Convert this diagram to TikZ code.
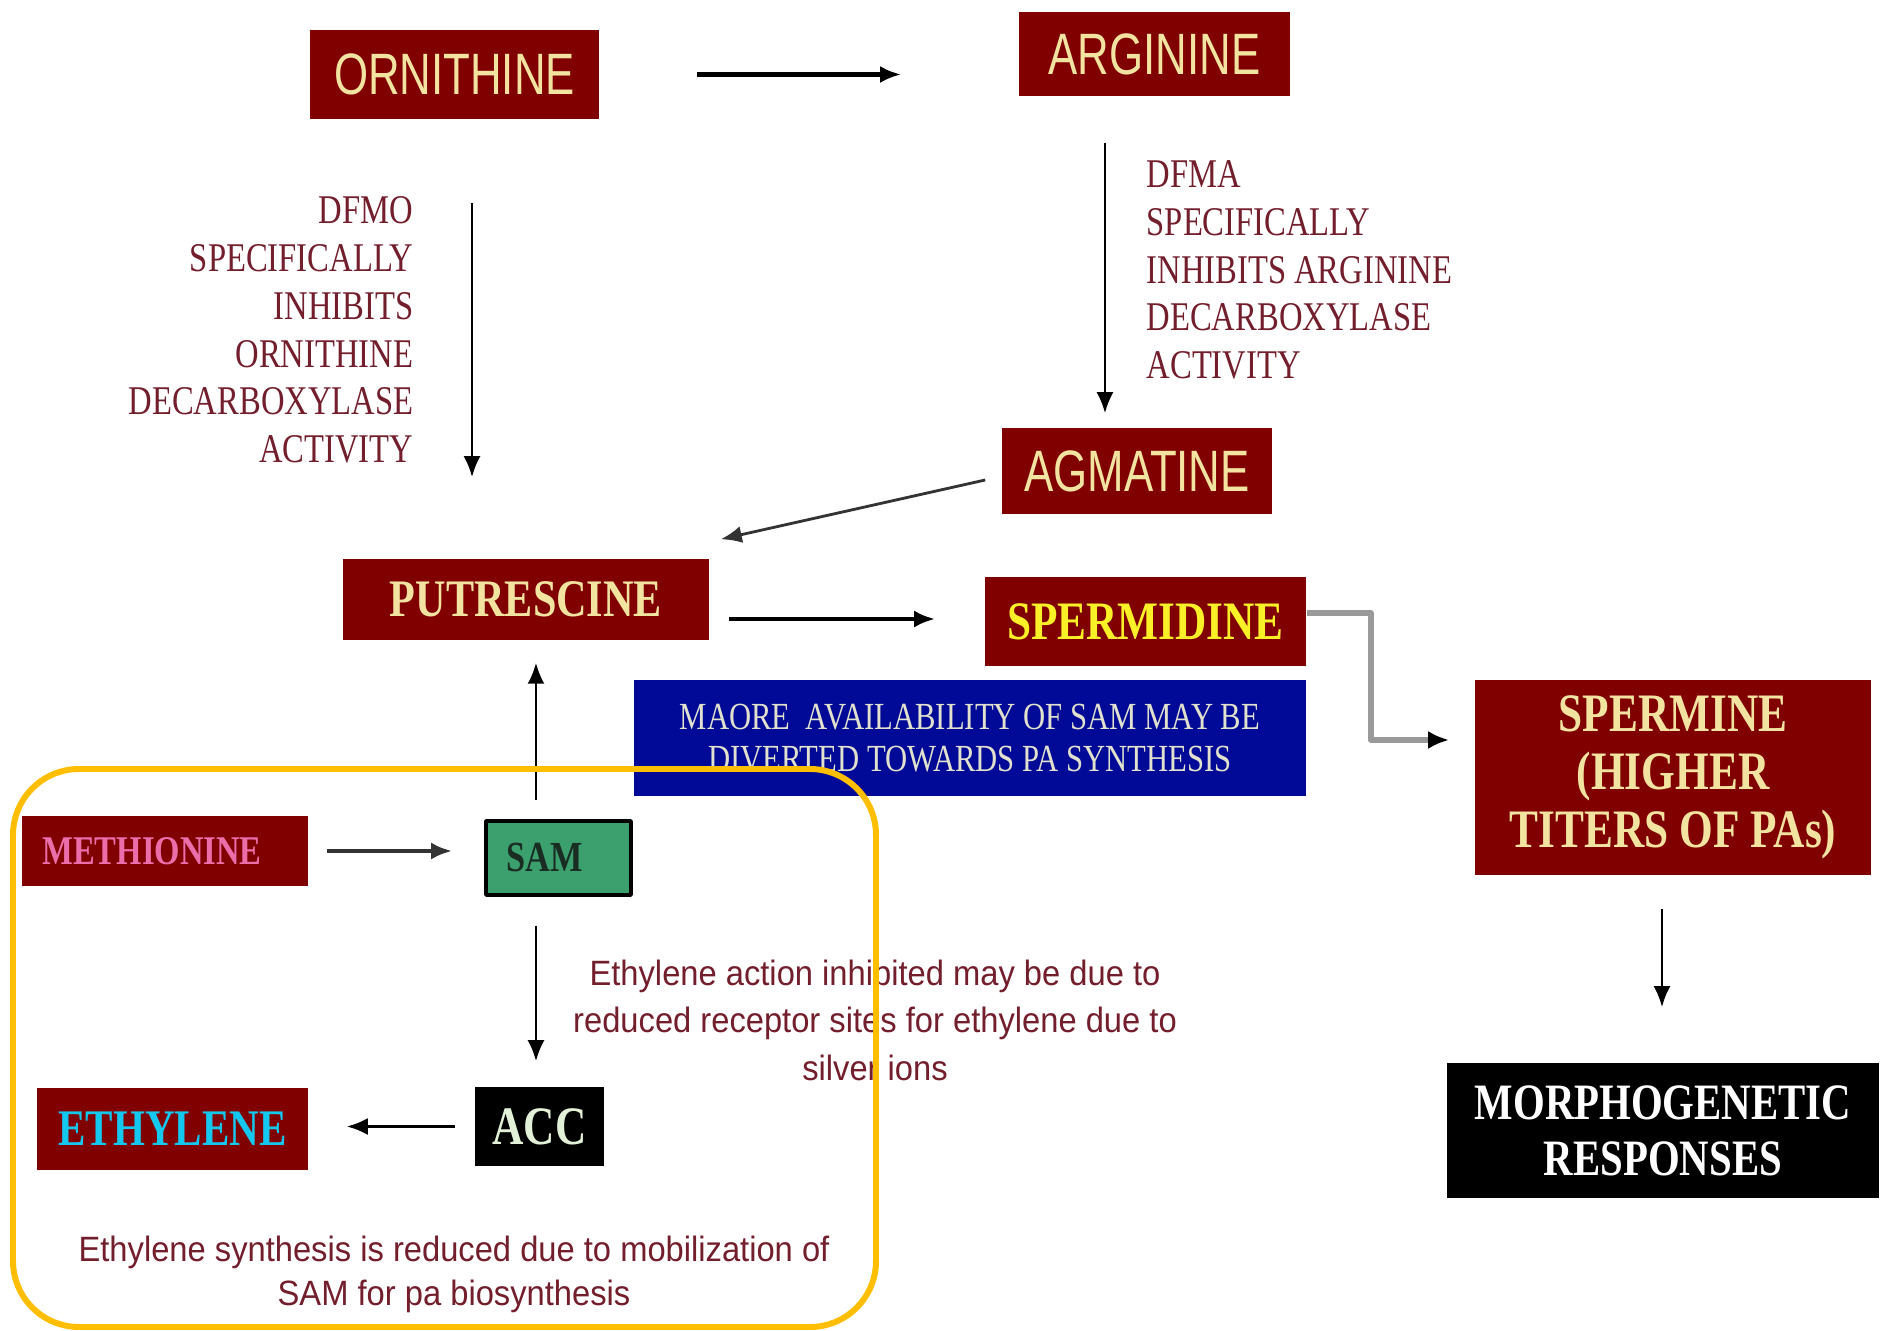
\documentclass[tikz,border=0pt]{standalone}
\usepackage{fontspec}
\usetikzlibrary{arrows.meta}

\newfontfamily\boxsans[FakeStretch=0.75]{Liberation Sans}
\newfontfamily\boxserif[FakeStretch=0.8]{Liberation Serif}
\newfontfamily\notesans[FakeStretch=0.93]{Liberation Sans}

\definecolor{boxred}{RGB}{128,0,0}
\definecolor{cream}{RGB}{242,228,160}
\definecolor{spdyellow}{RGB}{250,240,40}
\definecolor{methpink}{RGB}{235,110,170}
\definecolor{ethcyan}{RGB}{20,200,240}
\definecolor{accgreen}{RGB}{225,240,215}
\definecolor{samgreen}{RGB}{60,160,110}
\definecolor{samink}{RGB}{25,45,35}
\definecolor{noteblue}{RGB}{0,10,150}
\definecolor{noteink}{RGB}{225,225,205}
\definecolor{labelink}{RGB}{115,30,45}
\definecolor{frameyellow}{RGB}{255,190,0}

\tikzset{
  boxsize/.style 2 args={minimum width=#1, minimum height=#2},
  redbox/.style={fill=boxred, inner sep=0pt, align=center},
  sanslabel/.style={font=\boxsans\fontsize{16.6}{18}\selectfont, text=cream},
  boldlabel/.style 2 args={font=\boxserif\bfseries\fontsize{#1}{#2}\selectfont},
  labeltext/.style={font=\boxserif\fontsize{11.6}{13.6}\selectfont, text=labelink, inner sep=0pt},
  notetext/.style={font=\notesans\fontsize{10}{13.5}\selectfont, text=labelink, inner sep=0pt, align=center},
  pathway/.style={->, line width=0.8pt},
  mainway/.style={pathway, line width=1.3pt}
}

\begin{document}
\begin{tikzpicture}[x=0.01cm, y=-0.01cm, >={Latex[length=2.1mm,width=1.7mm]}, line join=round]
  \useasboundingbox (0,0) rectangle (1881,1331);
  \fill[white] (0,0) rectangle (1881,1331);

  % amino acids and polyamines
  \node[redbox, sanslabel, boxsize={2.89cm}{0.89cm}] (orn) at (454.5,74.5) {ORNITHINE};
  \node[redbox, sanslabel, boxsize={2.71cm}{0.84cm}] (arg) at (1154.5,54) {ARGININE};
  \node[redbox, sanslabel, boxsize={2.70cm}{0.86cm}] (agm) at (1137,471) {AGMATINE};
  \node[redbox, boldlabel={15}{16}, text=cream, boxsize={3.66cm}{0.81cm}] (put) at (526,599.5) {PUTRESCINE};
  \node[redbox, boldlabel={15.4}{16.4}, text=spdyellow, boxsize={3.21cm}{0.89cm}] (spd) at (1145.5,621.5) {SPERMIDINE};
  \node[redbox, boldlabel={15.4}{16.4}, text=cream, boxsize={3.96cm}{1.95cm}] (spm) at (1673,777.5) {SPERMINE\\(HIGHER\\TITERS OF PAs)};
  \node[fill=black, inner sep=0pt, align=center, boldlabel={14.5}{15.9}, text=white, boxsize={4.32cm}{1.35cm}] (morph) at (1663,1130.5) {MORPHOGENETIC\\RESPONSES};

  % blue note under spermidine
  \node[fill=noteblue, inner sep=0pt, align=center, font=\boxserif\fontsize{10.9}{11.9}\selectfont, text=noteink, boxsize={6.72cm}{1.16cm}] (more) at (970,738) {MAORE\ \ AVAILABILITY OF SAM MAY BE\\DIVERTED TOWARDS PA SYNTHESIS};

  % ethylene branch
  \node[redbox, boldlabel={11.6}{13}, text=methpink, boxsize={2.86cm}{0.70cm}] (meth) at (165,851) {METHIONINE\hspace*{2.6mm}};
  \node[draw=black, line width=1pt, fill=samgreen, inner sep=0pt, boldlabel={12.2}{13}, text=samink, boxsize={1.45cm}{0.74cm}] (sam) at (558.5,858) {SAM\hspace*{2.7mm}};
  \node[fill=black, inner sep=0pt, boldlabel={15.4}{16}, text=accgreen, boxsize={1.29cm}{0.79cm}] (acc) at (539.5,1126.5) {ACC};
  \node[redbox, boldlabel={14.6}{16}, text=ethcyan, boxsize={2.71cm}{0.82cm}] (eth) at (172.5,1129) {ETHYLENE};

  % inhibitor notes
  \node[labeltext, anchor=east, align=right] (dfmo) at (414,330) {DFMO\\SPECIFICALLY\\INHIBITS\\ORNITHINE\\DECARBOXYLASE\\ACTIVITY};
  \node[labeltext, anchor=west, align=left] (dfma) at (1146,270) {DFMA\\SPECIFICALLY\\INHIBITS ARGININE\\DECARBOXYLASE\\ACTIVITY};
  \node[notetext] (silver) at (875,1020) {Ethylene action inhibited may be due to\\reduced receptor sites for ethylene due to\\silver ions};
  \node[notetext, font=\notesans\fontsize{10}{12.5}\selectfont] (mobil) at (454,1274) {Ethylene synthesis is reduced due to mobilization of\\SAM for pa biosynthesis};

  % arrows
  \draw[mainway, shorten <=9.7mm, shorten >=11.7mm] (orn.east) -- (orn.east -| arg.west);
  \draw[pathway, shorten <=8.3mm, shorten >=8.1mm] ([xshift=1.75mm]orn.south) -- ([xshift=1.75mm]orn.south |- put.north);
  \draw[pathway, shorten <=4.6mm, shorten >=1.4mm] ([xshift=-4.95mm]arg.south) -- ([xshift=-4.95mm]arg.south |- agm.north);
  \draw[pathway, black!80] ([xshift=-1.6mm,yshift=-0.9mm]agm.west) -- ([xshift=1.1mm,yshift=1.9mm]put.north east);
  \draw[mainway, shorten <=1.9mm, shorten >=4.9mm] ([yshift=-1.95mm]put.east) -- ([yshift=-1.95mm]put.east -| spd.west);
  \draw[line width=1.6pt, black!40, -{Latex[length=2.1mm,width=1.8mm,black]}, shorten >=2.5mm]
    ([yshift=0.85mm]spd.east) -- ++(64,0) |- ([yshift=3.75mm]spm.west);
  \draw[pathway, shorten <=3.3mm, shorten >=5.5mm] ([xshift=-1.1mm]spm.south) -- ([xshift=-1.1mm]spm.south |- morph.north);
  \draw[mainway, black!80, shorten <=1.8mm, shorten >=3.2mm] (meth.east) -- (meth.east -| sam.west);
  \draw[pathway, shorten <=1.9mm, shorten >=2.2mm] ([xshift=-2.25mm]sam.north) -- ([xshift=-2.25mm]sam.north |- put.south);
  \draw[pathway, shorten <=2.9mm, shorten >=2.5mm] ([xshift=-2.25mm]sam.south) -- ([xshift=-2.25mm]sam.south |- acc.north);
  \draw[pathway, shorten <=1.9mm, shorten >=3.8mm] (acc.west) -- (acc.west -| eth.east);

  % highlight round the ethylene branch
  \draw[line width=1.7pt, frameyellow, rounded corners=6.6mm] (13,769) rectangle (876,1327);
\end{tikzpicture}
\end{document}
